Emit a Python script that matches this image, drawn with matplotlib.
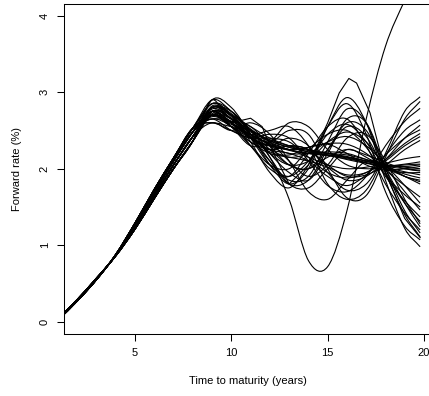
import numpy as np
import matplotlib.pyplot as plt
from matplotlib.path import Path
from matplotlib.patches import PathPatch

plt.rcParams['font.family'] = ['Liberation Sans', 'DejaVu Sans']

# maturities (years)
maturity_front = [1, 2, 3, 4, 5, 6, 7, 8]
maturity_back = [9, 10, 11, 12, 13, 14, 15, 16, 17, 18, 19, 19.8]

# the tight bundle at short maturities
front_low = [0.04, 0.29, 0.57, 0.86, 1.21, 1.61, 2.00, 2.36]
front_mid = [0.03, 0.28, 0.56, 0.87, 1.24, 1.65, 2.05, 2.42]
front_high = [0.02, 0.27, 0.55, 0.87, 1.27, 1.69, 2.10, 2.48]
front_top = [0.02, 0.27, 0.55, 0.88, 1.29, 1.73, 2.14, 2.53]
fronts = [front_low, front_mid, front_high, front_top]

# curves that stay in the middle and end near 2%
flat_curves = [
    [2.75, 2.65, 2.50, 2.38, 2.30, 2.25, 2.20, 2.15, 2.10, 2.05, 2.02, 2.00],
    [2.80, 2.70, 2.55, 2.40, 2.30, 2.22, 2.18, 2.12, 2.07, 2.03, 2.00, 1.98],
    [2.70, 2.60, 2.45, 2.33, 2.25, 2.20, 2.17, 2.13, 2.08, 2.02, 1.96, 1.92],
    [2.85, 2.72, 2.52, 2.35, 2.25, 2.20, 2.18, 2.15, 2.10, 2.02, 1.93, 1.88],
    [2.72, 2.62, 2.48, 2.36, 2.28, 2.24, 2.20, 2.16, 2.10, 2.04, 2.06, 2.09],
    [2.78, 2.66, 2.50, 2.37, 2.28, 2.22, 2.20, 2.18, 2.12, 2.05, 2.03, 2.05],
    [2.68, 2.58, 2.44, 2.32, 2.24, 2.20, 2.18, 2.14, 2.08, 2.00, 1.90, 1.83],
    [2.90, 2.75, 2.50, 2.30, 2.20, 2.20, 2.22, 2.20, 2.12, 2.02, 1.90, 1.80],
    [2.90, 2.55, 2.50, 2.15, 1.80, 1.75, 2.00, 2.25, 2.15, 2.00, 1.95, 1.95],
    [2.60, 2.50, 2.60, 2.45, 2.10, 1.70, 1.60, 1.85, 2.10, 2.05, 1.90, 1.85],
    [2.75, 2.55, 2.30, 2.35, 2.60, 2.55, 2.25, 2.05, 2.00, 2.02, 2.05, 2.06],
    [2.65, 2.62, 2.55, 2.30, 2.05, 2.00, 2.15, 2.25, 2.18, 2.08, 2.00, 1.97],
    [2.82, 2.68, 2.42, 2.22, 2.18, 2.28, 2.32, 2.20, 2.05, 1.98, 2.00, 2.03],
]

# curves that dip around 16 years and end high
rising_curves = [
    [2.70, 2.55, 2.45, 2.50, 2.55, 2.30, 1.80, 1.60, 1.72, 2.20, 2.75, 2.94],
    [2.75, 2.60, 2.45, 2.35, 2.50, 2.45, 2.00, 1.62, 1.65, 2.15, 2.65, 2.88],
    [2.65, 2.50, 2.40, 2.45, 2.40, 2.10, 1.78, 1.70, 1.90, 2.30, 2.62, 2.79],
    [2.80, 2.65, 2.40, 2.30, 2.40, 2.30, 1.95, 1.72, 1.80, 2.18, 2.50, 2.64],
    [2.70, 2.55, 2.35, 2.25, 2.30, 2.25, 2.02, 1.85, 1.90, 2.12, 2.40, 2.57],
    [2.75, 2.60, 2.40, 2.25, 2.20, 2.10, 1.90, 1.78, 1.92, 2.18, 2.40, 2.51],
    [2.60, 2.50, 2.40, 2.40, 2.35, 2.15, 1.95, 1.88, 1.95, 2.12, 2.33, 2.46],
    [2.70, 2.55, 2.35, 2.20, 2.15, 2.10, 2.02, 1.92, 1.95, 2.10, 2.30, 2.42],
    [2.75, 2.60, 2.40, 2.25, 2.30, 2.25, 2.05, 1.90, 1.92, 2.05, 2.25, 2.37],
    [2.70, 2.55, 2.40, 2.30, 2.25, 2.15, 2.05, 2.00, 2.02, 2.07, 2.13, 2.16],
]

# curves that peak around 16 years and end low
falling_curves = [
    [2.85, 2.75, 2.45, 2.05, 1.80, 2.00, 2.55, 2.93, 2.60, 1.85, 1.22, 0.98],
    [2.80, 2.70, 2.35, 1.95, 1.75, 2.05, 2.55, 2.85, 2.45, 1.70, 1.25, 1.07],
    [2.75, 2.65, 2.40, 2.10, 1.85, 1.90, 2.35, 2.78, 2.60, 1.95, 1.40, 1.11],
    [2.80, 2.75, 2.50, 2.20, 1.95, 1.85, 2.20, 2.65, 2.60, 2.00, 1.45, 1.16],
    [2.70, 2.60, 2.30, 2.00, 1.90, 2.20, 2.55, 2.65, 2.30, 1.80, 1.42, 1.20],
    [2.90, 2.80, 2.45, 2.10, 1.80, 1.85, 2.25, 2.60, 2.50, 2.00, 1.55, 1.24],
    [2.75, 2.70, 2.50, 2.25, 2.05, 2.00, 2.25, 2.55, 2.42, 1.95, 1.55, 1.31],
    [2.65, 2.55, 2.30, 2.05, 2.00, 2.25, 2.45, 2.50, 2.28, 1.90, 1.58, 1.37],
    [2.80, 2.70, 2.45, 2.20, 2.05, 2.10, 2.35, 2.48, 2.35, 2.02, 1.70, 1.46],
    [2.75, 2.65, 2.40, 2.25, 2.15, 2.20, 2.35, 2.42, 2.30, 2.05, 1.78, 1.55],
    [2.70, 2.60, 2.40, 2.30, 2.25, 2.28, 2.33, 2.32, 2.20, 1.98, 1.78, 1.63],
    [2.85, 2.70, 2.40, 2.05, 1.90, 2.10, 2.45, 2.58, 2.35, 1.92, 1.66, 1.50],
    [2.60, 2.55, 2.50, 2.35, 2.10, 1.90, 2.05, 2.40, 2.45, 2.10, 1.60, 1.28],
]

# the outlier that drops below 1% and then shoots off the top
outlier_curve = [2.70, 2.65, 2.45, 2.15, 1.60, 0.80, 0.72, 1.45, 2.65, 3.60, 4.20, 4.60]

# a coarsely sampled curve (drawn with straight segments)
spiky_maturity = [9, 10, 11, 11.6, 12, 13, 14, 15, 15.6, 16.1, 16.5, 17.2, 18, 19, 19.8]
spiky_curve = [2.75, 2.60, 2.66, 2.55, 2.30, 1.80, 2.05, 2.60, 2.99, 3.18, 3.12, 2.73, 1.95, 1.35, 1.10]


def smooth_path(x, y):
    x = np.asarray(x, float)
    y = np.asarray(y, float)
    m = np.empty(len(x))
    m[1:-1] = (y[2:] - y[:-2]) / (x[2:] - x[:-2])
    m[0] = (y[1] - y[0]) / (x[1] - x[0])
    m[-1] = (y[-1] - y[-2]) / (x[-1] - x[-2])
    verts = [(x[0], y[0])]
    codes = [Path.MOVETO]
    for i in range(len(x) - 1):
        h = (x[i + 1] - x[i]) / 3
        verts += [(x[i] + h, y[i] + m[i] * h),
                  (x[i + 1] - h, y[i + 1] - m[i + 1] * h),
                  (x[i + 1], y[i + 1])]
        codes += [Path.CURVE4] * 3
    return Path(verts, codes)


fig = plt.figure(figsize=(4.29, 3.96), dpi=100)
ax = fig.add_axes([0.1485, 0.1566, 0.8578, 0.8333])

all_back = flat_curves + rising_curves + falling_curves + [outlier_curve]
for i, back in enumerate(all_back):
    x = maturity_front + maturity_back
    y = fronts[i % 4] + back
    ax.add_patch(PathPatch(smooth_path(x, y), fill=False, edgecolor='black', lw=0.8))

ax.plot(maturity_front + spiky_maturity, front_mid + spiky_curve, color='black', lw=0.8)

ax.set_xlim(1.3, 20.4)
ax.set_ylim(-0.16, 4.153)
ax.set_xticks([5, 10, 15, 20])
ax.set_yticks([0, 1, 2, 3, 4])
ax.tick_params(direction='out', length=5, width=0.75, pad=5, labelsize=8)
for lab in ax.get_yticklabels():
    lab.set_rotation(90)
    lab.set_va('center')
for s in ax.spines.values():
    s.set_linewidth(0.75)

ax.set_xlabel('Time to maturity (years)', fontsize=8, labelpad=13)
ax.set_ylabel('Forward rate (%)', fontsize=8, labelpad=13)

fig.savefig('out.png', dpi=100)
